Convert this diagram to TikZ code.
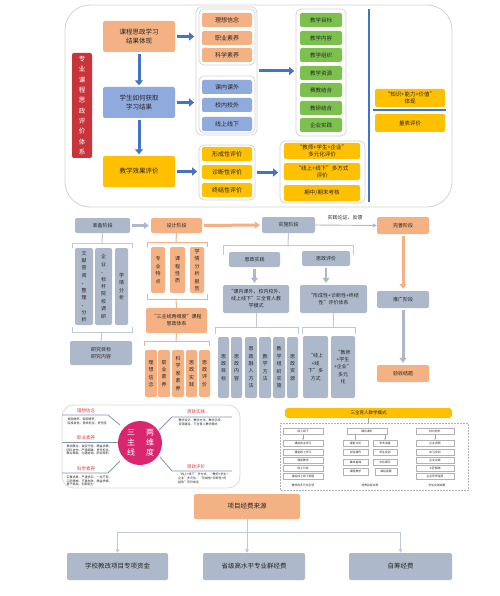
\documentclass[tikz,border=0pt]{standalone}
\usepackage{fontspec}
\setmainfont{Noto Sans CJK SC}
\usetikzlibrary{arrows.meta}
\XeTeXlinebreaklocale "zh"
\XeTeXlinebreakskip = 0pt plus 1pt
\definecolor{cor}{HTML}{F4B183}
\definecolor{cbl}{HTML}{8FAADC}
\definecolor{cye}{HTML}{FFC000}
\definecolor{cgr}{HTML}{7CC14E}
\definecolor{cred}{HTML}{C9343A}
\definecolor{cgy}{HTML}{ADB9CA}
\definecolor{carrow}{HTML}{4472C4}
\definecolor{cmag}{HTML}{D9266F}
\definecolor{ctxt}{HTML}{262626}
\definecolor{cline}{HTML}{BFC8D6}
\definecolor{cmline}{HTML}{8496B0}
\definecolor{chead}{HTML}{E03A3A}
\newcommand{\bx}[7]{\node[#6, minimum width={(#4-#2)*1pt}, minimum height={(#5-#3)*1pt}] (#1) at ({(#2+#4)/2},{(#3+#5)/2}) {#7};}
\begin{document}
\begin{tikzpicture}[x=1pt,y=-1pt,
  base/.style={rounded corners=2pt, inner sep=0.5pt, align=center, text=ctxt},
  obox/.style={base, fill=cor},
  bbox/.style={base, fill=cbl},
  ybox/.style={base, fill=cye},
  gbox/.style={base, fill=cgr},
  sbox/.style={base, fill=cgy},
  rbox/.style={base, fill=cred, text=white},
  grp/.style={draw=gray!35, line width=0.7pt, rounded corners=5pt, inner sep=0},
  ft/.style={font=\fontsize{6.5}{8.5}\selectfont},
  fi/.style={font=\fontsize{6}{7.5}\selectfont},
  fg/.style={font=\fontsize{5.5}{7}\selectfont},
  fs/.style={font=\fontsize{5}{7}\selectfont},
  fv/.style={font=\fontsize{5}{7.4}\selectfont},
  barrow/.style={draw=carrow, line width=3pt, -{Triangle[width=8pt,length=5pt]}, shorten <=1.5pt, shorten >=1.5pt},
  fatgray/.style={draw=cgy, line width=3pt, -{Triangle[width=7pt,length=5pt]}, shorten <=2pt, shorten >=2pt},
  fatorange/.style={draw=cor, line width=3pt, -{Triangle[width=7pt,length=5pt]}, shorten <=2pt, shorten >=2pt},
  thinarrow/.style={draw=cgy, line width=0.9pt, -{Triangle[width=4pt,length=4pt]}},
  brk/.style={draw=cline, line width=1pt},
  obrk/.style={draw=cor, line width=1pt},
  mline/.style={draw=cmline, line width=0.8pt},
  mhead/.style={text=chead, font=\fontsize{4.5}{5}\selectfont, inner sep=0},
  mtext/.style={text=ctxt, font=\fontsize{3}{3.8}\selectfont, align=left, inner sep=0},
  tb/.style={draw=gray!60, line width=0.4pt, inner sep=0, font=\fontsize{2.8}{3}\selectfont, text=ctxt},
  tarrow/.style={draw=gray!70, line width=0.4pt, -{Stealth[length=1.5pt,width=1.5pt]}},
  conn/.style={draw=cline, line width=1pt, -{Triangle[width=3.5pt,length=3.5pt]}}
]
\fill[white] (0,0) rectangle (499,596);
\useasboundingbox (0,0) rectangle (499,596);

% ================= TOP SECTION =================
\draw[gray!35, line width=0.8pt, rounded corners=25pt] (65,5) rectangle (452,207);
\bx{red}{72}{53}{92}{158}{rbox, font=\fontsize{6.5}{10.3}\selectfont}{专\\业\\课\\程\\思\\政\\评\\价\\体\\系}
\bx{o1}{103}{21}{175}{52}{obox, ft}{课程思政学习\\结果体现}
\bx{b1}{103}{87}{175}{118}{bbox, ft}{学生如何获取\\学习结果}
\bx{y1}{103}{156}{175}{187}{ybox, ft}{教学效果评价}
\draw[barrow] (o1.south) -- (b1.north);
\draw[barrow] (b1.south) -- (y1.north);

\bx{og}{196}{7}{257}{135}{grp}{}
\bx{og1}{199}{9}{255}{65}{grp}{}
\bx{og2}{199}{76}{255}{133}{grp}{}
\bx{yg}{199}{145}{255}{200}{grp}{}
\bx{oi1}{202}{13}{252}{27}{obox, fi}{理想信念}
\bx{oi2}{202}{31}{252}{45}{obox, fi}{职业素养}
\bx{oi3}{202}{48}{252}{62}{obox, fi}{科学素养}
\bx{bi1}{202}{80}{252}{94}{bbox, fi}{课内课外}
\bx{bi2}{202}{98}{252}{112}{bbox, fi}{校内校外}
\bx{bi3}{202}{117}{252}{131}{bbox, fi}{线上线下}
\bx{yi1}{202}{147}{252}{161}{ybox, fi}{形成性评价}
\bx{yi2}{202}{165}{252}{179}{ybox, fi}{诊断性评价}
\bx{yi3}{202}{183}{252}{197}{ybox, fi}{终结性评价}
\draw[barrow] (o1.east) -- (o1.east -| og.west);
\draw[barrow] (b1.east) -- (b1.east -| og.west);
\draw[barrow] (y1.east) -- (y1.east -| yg.west);

\bx{gg}{296}{9}{346}{136}{grp}{}
\bx{g1}{300}{13}{342}{27}{gbox, fg}{教学目标}
\bx{g2}{300}{31}{342}{45}{gbox, fg}{教学内容}
\bx{g3}{300}{48}{342}{62}{gbox, fg}{教学组织}
\bx{g4}{300}{66}{342}{80}{gbox, fg}{教学资源}
\bx{g5}{300}{83}{342}{97}{gbox, fg}{赛教结合}
\bx{g6}{300}{101}{342}{115}{gbox, fg}{教研结合}
\bx{g7}{300}{118}{342}{132}{gbox, fg}{企业实践}
\draw[barrow] (og.east) -- (og.east -| gg.west);

\bx{yg2}{280}{141}{365}{203}{grp}{}
\bx{yj1}{284}{143}{360}{159}{ybox, fg}{“教师+学生+企业”\\多元化评价}
\bx{yj2}{284}{163}{360}{180}{ybox, fg}{“线上+线下”多方式\\评价}
\bx{yj3}{284}{185}{360}{201}{ybox, fg}{期中/期末考核}
\draw[barrow] (yg.east) -- (yg.east -| yg2.west);

\draw[carrow, line width=1.3pt] (369,9) -- (369,202);
\bx{k1}{375}{89}{445}{107}{ybox, fg}{“知识+能力+价值”\\体现}
\draw[carrow, line width=1.3pt] (373,110) -- (446,110);
\bx{k2}{375}{114}{445}{132}{ybox, fg}{量表评价}

% ================= MIDDLE SECTION =================
\bx{s1}{75}{218}{130}{233}{sbox, fs}{准备阶段}
\bx{s2}{151}{218}{202}{233}{obox, fs}{设计阶段}
\bx{s3}{262}{217}{315}{233}{sbox, fs}{实施阶段}
\bx{s4}{377}{217}{429}{234}{obox, fs}{完善阶段}
\bx{s5}{377}{291}{429}{308}{sbox, fs}{推广阶段}
\bx{s6}{377}{365}{429}{382}{obox, fs}{验收结题}
\draw[fatgray] (s1.east) -- (s2.west);
\draw[fatorange] (s2.east) -- (s3.west);
\draw[thinarrow] (s3.east) -- (s4.west);
\node[fs, text=ctxt, inner sep=0] (lab) at (345,218) {实践论证、反馈};
\draw[fatorange] (s4.south) -- (s5.north);
\draw[fatgray] (s5.south) -- (s6.north);

% preparation
\draw[brk] (s1.south) -- (102,243);
\draw[brk] (72,248) -- (72,243) -- (132,243) -- (132,248);
\bx{p1}{75}{248}{93}{325}{sbox, fv}{文\\献\\查\\阅\\、\\整\\理\\、\\分\\析}
\bx{p2}{95}{248}{112}{325}{sbox, fv}{企\\业\\、\\标\\杆\\院\\校\\调\\研}
\bx{p3}{115}{248}{128}{325}{sbox, fv}{学\\情\\分\\析}
\draw[brk] (72,327) -- (72,332) -- (132,332) -- (132,327);
\bx{p4}{70}{341}{132}{365}{sbox, fs}{研究目标\\研究内容}
\draw[brk] (102,332) -- (p4.north);

% design
\draw[obrk] (s2.south) -- (176,242);
\draw[obrk] (147,247) -- (147,242) -- (207,242) -- (207,247);
\bx{d1}{151}{247}{165}{293}{obox, fv}{专\\业\\特\\点}
\bx{d2}{170}{247}{185}{293}{obox, fv}{课\\程\\性\\质}
\bx{d3}{190}{247}{204}{293}{obox, fv}{学\\情\\分\\析\\报\\告}
\draw[obrk] (147,294) -- (147,299) -- (207,299) -- (207,294);
\bx{d4}{146}{308}{207}{333}{obox, fs}{“三主线两维度”课程\\思政体系}
\draw[obrk] (176,299) -- (d4.north);
\draw[obrk] (d4.south) -- (176,341);
\draw[obrk] (144,346) -- (144,341) -- (209,341) -- (209,346);
\bx{d5}{145}{350}{157}{397}{obox, fv}{理\\想\\信\\念}
\bx{d6}{158}{350}{170}{397}{obox, fv}{职\\业\\素\\养}
\bx{d7}{172}{350}{184}{397}{obox, fv}{科\\学\\家\\素\\养}
\bx{d8}{186}{350}{197}{397}{obox, fv}{思\\政\\实\\践}
\bx{d9}{199}{350}{210}{397}{obox, fv}{思\\政\\评\\价}

% implementation
\draw[brk] (s3.south) -- (288,245);
\draw[brk] (223,255) -- (223,245) -- (353,245) -- (353,255);
\bx{i1}{229}{252}{280}{267}{sbox, fs}{思政实践}
\bx{i2}{302}{251}{350}{266}{sbox, fs}{思政评价}
\bx{i3}{223}{285}{289}{313}{sbox, fs}{“课内课外、校内校外、\\线上线下”三全育人教\\学模式}
\bx{i4}{300}{285}{367}{313}{sbox, fs}{“形成性+诊断性+终结\\性”评价体系}
\draw[fatgray, line width=2.5pt] (i1.south -| i1.south) -- (i1.south |- i3.north);
\draw[fatgray, line width=2.5pt] (i2.south) -- (i2.south |- i4.north);
\draw[brk] (256,313) -- (256,327);
\draw[brk] (215,334) -- (215,327) -- (298,327) -- (298,334);
\draw[brk] (333,313) -- (333,327);
\draw[brk] (302,334) -- (302,327) -- (355,327) -- (355,334);
\bx{i5}{218}{337}{229}{398}{sbox, fv}{思\\政\\目\\标}
\bx{i6}{231}{337}{242}{398}{sbox, fv}{思\\政\\内\\容}
\bx{i7}{245}{337}{257}{398}{sbox, fv}{思\\政\\融\\入\\方\\法}
\bx{i8}{259}{337}{271}{398}{sbox, fv}{教\\学\\方\\法}
\bx{i9}{273}{337}{285}{398}{sbox, fv}{教\\学\\组\\织\\实\\施}
\bx{i10}{287}{337}{298}{398}{sbox, fv}{思\\政\\资\\源}
\bx{i11}{303}{336}{328}{398}{sbox, fv}{“线上\\+线\\下”多\\方式}
\bx{i12}{331}{336}{355}{398}{sbox, fv}{“教师\\+学生\\+企业”\\多元\\化}

% ================= MIND MAP =================
\draw[gray!30, line width=0.8pt, rounded corners=12pt] (62,405) rectangle (240,488);
\node[circle, fill=cmag, minimum size=44pt, inner sep=0] (circ) at (140,443) {};
\node[text=white, font=\fontsize{8}{10}\selectfont, align=center, inner sep=0] (cl) at (131,443) {三\\主\\线};
\node[text=white, font=\fontsize{8}{10}\selectfont, align=center, inner sep=0] (cr) at (150,443) {两\\维\\度};

\node[mhead] (h1) at (86,411) {理想信念};
\draw[mline] (62,415) -- (108,415) -- (120,425);
\node[mtext, anchor=north] (t1) at (87,417.5) {爱国情怀、家国情怀、\\民族自信、使命担当、责任感};
\node[mhead] (h2) at (86,438) {职业素养};
\draw[mline] (62,442) -- (118,442);
\node[mtext, anchor=north] (t2) at (89,444.5) {爱岗敬业、诚实守信、精益求精、\\团队协作、严谨细致、责任担当、\\敬业奉献、沟通协调、职业规划};
\node[mhead] (h3) at (86,469) {科学素养};
\draw[mline] (62,473) -- (108,473) -- (120,461);
\node[mtext, anchor=north] (t3) at (89,475.5) {实事求是、严谨求实、一丝不苟、\\工匠精神、不畏失败、精益求精、\\勇于挑战、创新能力};

\node[mhead] (h4) at (196,412) {思政实践};
\draw[mline] (159,430) -- (172,417) -- (232,417);
\node[mtext, anchor=north] (t4) at (201,419) {教学设计、教学方法、教学手段、\\资源建设、三全育人教学模式};
\node[mhead] (h5) at (196,467) {思政评价};
\draw[mline] (160,457) -- (172,471) -- (232,471);
\node[mtext, anchor=north] (t5) at (203,473) {“线上+线下”多方式、“教师+学生+\\企业”多元化、“形成性+诊断性+终\\结性”评价体系};

% ================= THREE-ALL MODEL =================
\bx{m0}{285}{408}{452}{418}{base, fill=cye, rounded corners=3pt, font=\fontsize{4.5}{5}\selectfont}{三全育人教学模式}
\draw[gray!60, line width=0.5pt, densely dotted] (280,423) rectangle (468,490);
\draw[gray!70, line width=0.5pt] (m0.south) -- (368.5,423);

\bx{ma}{283}{428}{323}{434}{tb}{线上线下}
\bx{ma1}{283}{440}{323}{446}{tb}{课前自主学习}
\bx{ma2}{283}{449}{323}{455}{tb}{课堂线上学习}
\bx{ma3}{283}{457}{323}{463}{tb}{课堂教学}
\bx{ma4}{283}{465}{323}{471}{tb}{线上讨论}
\bx{ma5}{283}{473}{323}{479}{tb}{课后线上线下拓展}
\draw[tarrow] (ma.south) -- (ma1.north);
\node[font=\fontsize{2.8}{3}\selectfont, text=ctxt] (mal) at (303,485) {教师的多元化引领};

\bx{mb}{347}{428}{387}{434}{tb}{课内课外}
\bx{mb1}{343}{440}{368}{446}{tb}{课堂讨论}
\bx{mb2}{343}{449}{368}{455}{tb}{实验操作}
\bx{mb3}{343}{459}{368}{465}{tb}{集体备课}
\bx{mb4}{343}{468}{368}{475}{tb}{课程教学}
\bx{mb5}{373}{440}{397}{446}{tb}{学术讲座}
\bx{mb6}{373}{449}{397}{455}{tb}{学生实训}
\bx{mb7}{373}{459}{397}{465}{tb}{文化展示}
\bx{mb8}{375}{468}{397}{475}{tb}{课后拓展}
\coordinate (mbl) at (355.5,434);
\coordinate (mbr) at (385,434);
\draw[tarrow] (mbl) -- (mb1.north);
\draw[tarrow] (mbr) -- (mb5.north);
\node[font=\fontsize{2.8}{3}\selectfont, text=ctxt] (mbt) at (370,485) {培养目标实现};

\bx{mc}{416}{428}{454}{434}{tb}{校内校外}
\bx{mc1}{416}{440}{454}{446}{tb}{企业调研}
\bx{mc2}{416}{449}{454}{455}{tb}{实习实训}
\bx{mc3}{416}{457}{454}{463}{tb}{企业实践}
\bx{mc4}{416}{465}{454}{471}{tb}{工匠精神}
\bx{mc5}{416}{473}{454}{479}{tb}{企业导师指导}
\draw[tarrow] (mc.south) -- (mc1.north);
\node[font=\fontsize{2.8}{3}\selectfont, text=ctxt] (mcl) at (437,485) {学生实践成果};

% ================= FUNDING =================
\bx{f0}{194}{494}{300}{519}{obox, ft}{项目经费来源}
\bx{f1}{67}{553}{168}{580}{sbox, ft}{学校教改项目专项资金}
\bx{f2}{203}{553}{305}{580}{sbox, ft}{省级高水平专业群经费}
\bx{f3}{349}{553}{452}{580}{sbox, ft}{自筹经费}
\coordinate (fj) at (247,532);
\draw[conn] (f0.south) -- (fj) -| (f1.north);
\draw[conn] (fj) -| (f3.north);
\draw[conn] (fj) -- (fj |- f2.north);
\end{tikzpicture}
\end{document}
